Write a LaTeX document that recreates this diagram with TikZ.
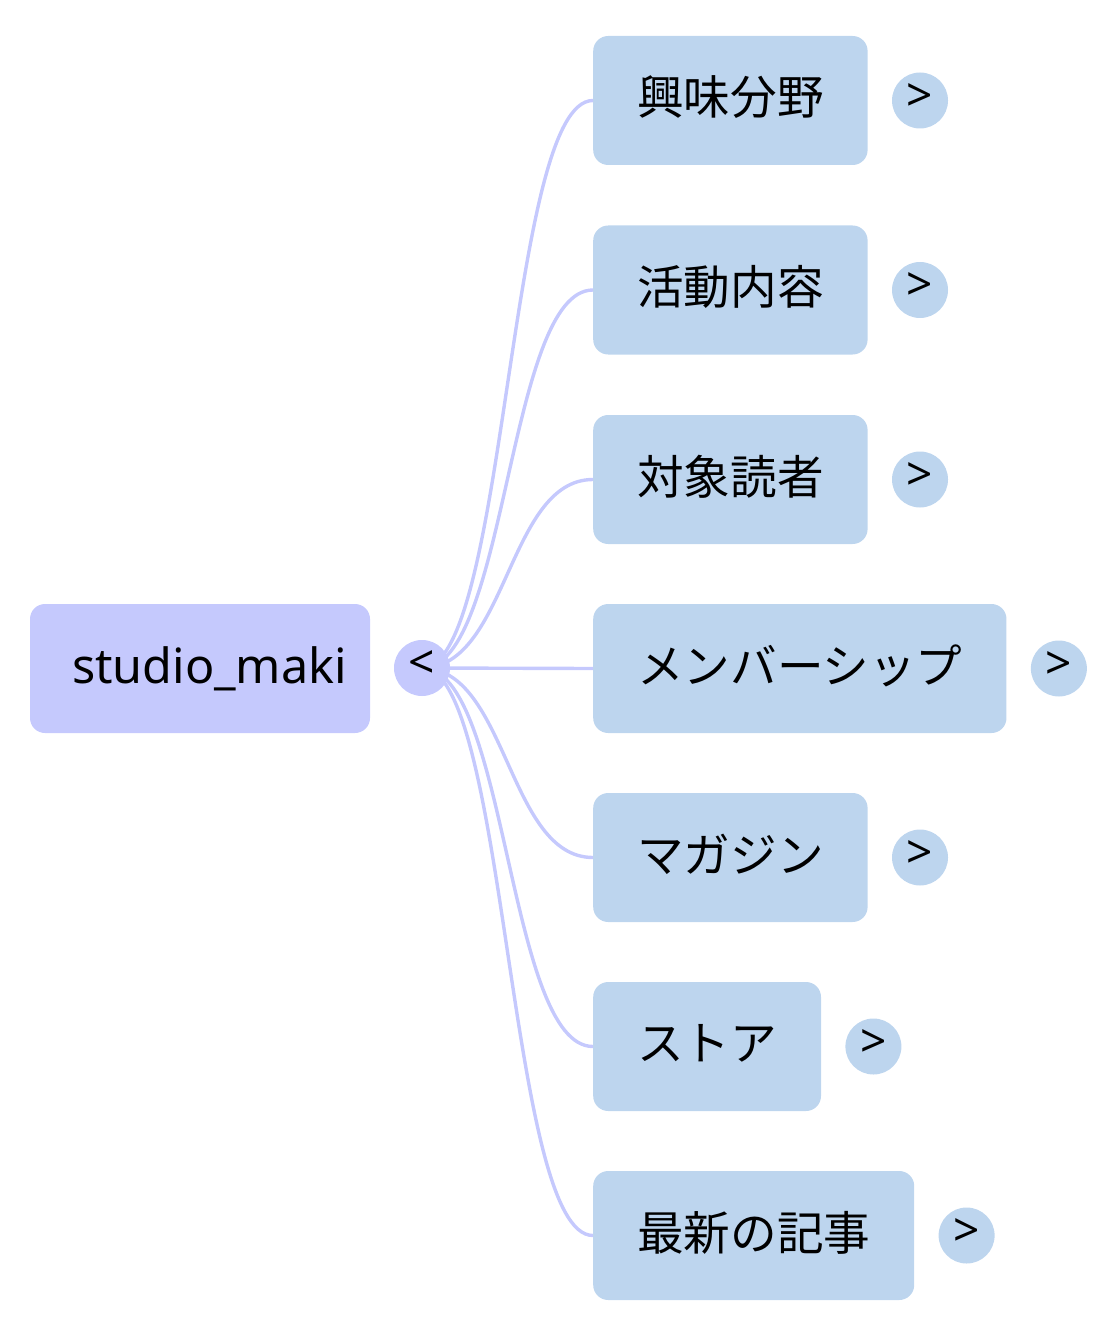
\documentclass[tikz,border=0pt]{standalone}
\usepackage{fontspec}
\setmainfont{Noto Sans}
\newfontfamily\cjk{Noto Sans CJK JP}
\usetikzlibrary{positioning,backgrounds}
\definecolor{rootc}{HTML}{C5C9FD}
\definecolor{childc}{HTML}{BDD5EE}
\definecolor{edgec}{HTML}{C5C9FD}
\newcommand{\uplbl}[1]{\raisebox{3pt}[\height][\depth]{#1}}
\tikzset{
  rootbox/.style={fill=rootc, rounded corners=15pt, minimum height=129pt, minimum width=340pt, inner sep=0pt},
  roottext/.style={font=\fontsize{48.5}{48.5}\selectfont, inner sep=0pt, anchor=base},
  childbox/.style={fill=childc, rounded corners=15pt, minimum height=129pt, inner xsep=44pt, inner ysep=0pt, anchor=west, font=\cjk\fontsize{46.6}{46.6}\selectfont},
  hubcirc/.style={circle, fill=rootc, minimum size=56pt, inner sep=0pt, font=\fontsize{46}{46}\selectfont},
  togglecirc/.style={circle, fill=childc, minimum size=56pt, inner sep=0pt, font=\fontsize{46}{46}\selectfont},
  edge/.style={draw=edgec, line width=3.4pt}
}
\begin{document}
\begin{tikzpicture}[x=1pt,y=-1pt]
\useasboundingbox (0,0) rectangle (1118,1337);
\node[rootbox] (root) at (200,668.5) {};
\node[roottext] (roottxt) at (209.5,683) {studio\_maki};
\node[hubcirc] (hub) at (422,668) {\uplbl{<}};

\node[childbox] (c1) at (593,100.5) {\uplbl{興味分野}};
\node[childbox] (c2) at (593,290) {\uplbl{活動内容}};
\node[childbox] (c3) at (593,479.5) {\uplbl{対象読者}};
\node[childbox] (c4) at (593,668.5) {\uplbl{メンバーシップ}};
\node[childbox] (c5) at (593,857.5) {\uplbl{マガジン}};
\node[childbox] (c6) at (593,1046.5) {\uplbl{ストア}};
\node[childbox] (c7) at (593,1235.5) {\uplbl{最新の記事}};

\foreach \i in {1,...,7}{
  \node[togglecirc, right=24pt of c\i] (t\i) {\uplbl{>}};
}

\begin{scope}[on background layer]
\foreach \i in {1,2,3,5,6,7}{
  \draw[edge] (hub.center) .. controls ([xshift=85.5pt]hub.center) and ([xshift=-85.5pt]c\i.west) .. (c\i.west);
}
\draw[edge] (hub.center) -- (c4.west);
\end{scope}
\end{tikzpicture}
\end{document}
